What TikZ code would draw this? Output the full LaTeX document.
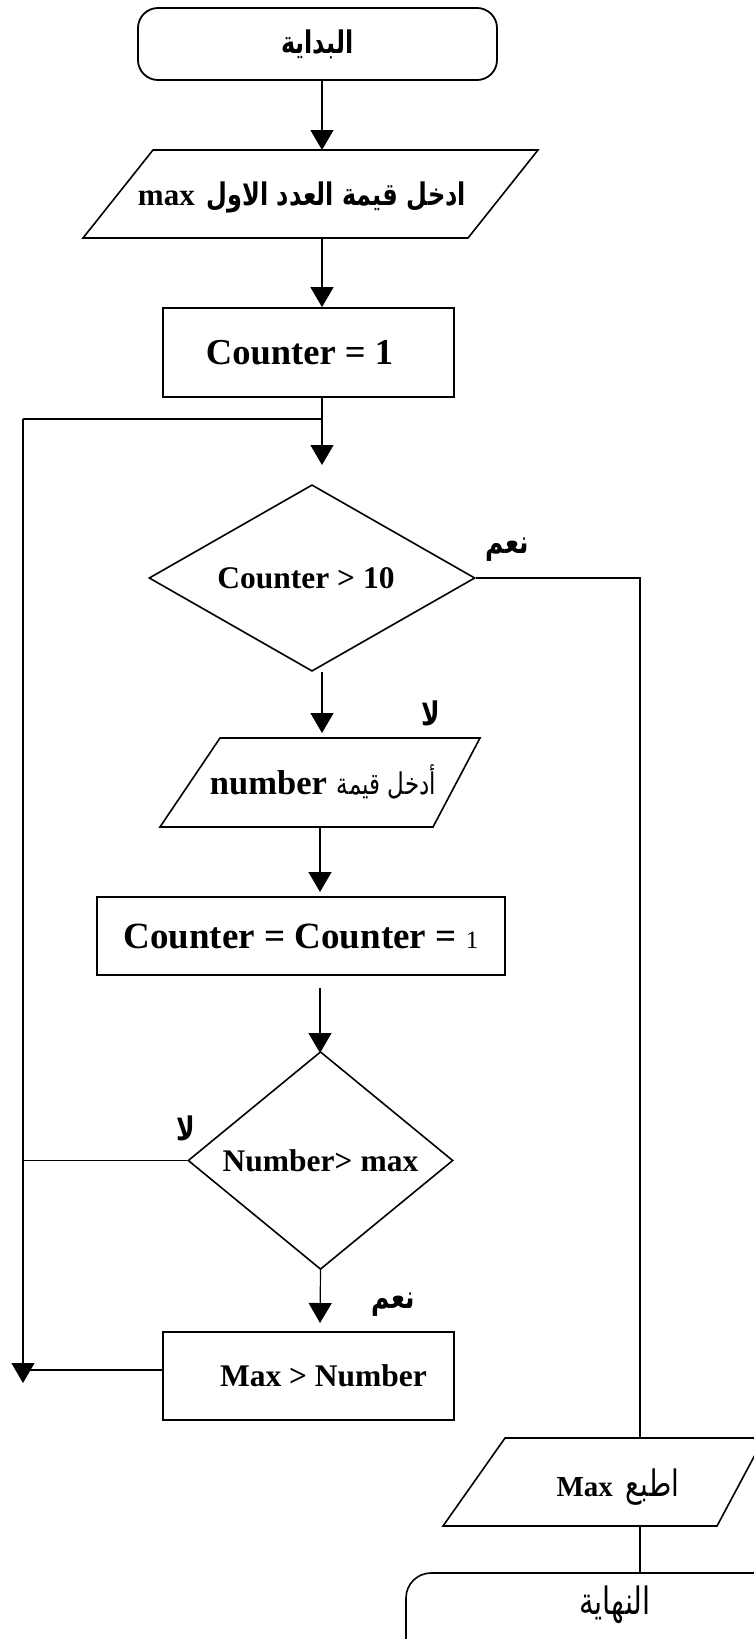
\documentclass[tikz,border=0pt]{standalone}
\usepackage{fontspec}
\usepackage{graphicx}
\setmainfont{Liberation Serif}
\newfontfamily\arabicfont[Script=Arabic]{DejaVu Sans}
\TeXXeTstate=1
\usetikzlibrary{shapes.geometric,arrows.meta}
\newcommand{\artxt}[1]{\scalebox{1}[1.3]{\arabicfont\beginR #1\endR}}
\newcommand{\fsz}[1]{\fontsize{#1}{#1}\selectfont}
\begin{document}
\begin{tikzpicture}[x=1pt,y=-1pt,
  boxline/.style={draw, line width=1.8pt, line join=miter},
  procbox/.style={boxline, rectangle, inner sep=0pt, font=\bfseries},
  termbox/.style={boxline, rectangle, rounded corners=20pt, inner sep=0pt},
  decbox/.style={draw, line width=1.6pt, line join=miter, diamond, inner sep=0pt, font=\bfseries},
  ioline/.style={draw, line width=1.6pt, line join=miter},
  conn/.style={line width=1.2pt},
  arr/.style={conn, -{Triangle[length=20pt,width=23pt]}},
  txt/.style={inner sep=0pt},
  lbl/.style={inner sep=0pt, font=\arabicfont\bfseries\fsz{25}},
]
\useasboundingbox (0,0) rectangle (754,1639);
\clip (0,0) rectangle (754,1639);

% column coordinates
\coordinate (col) at (322,0);
\coordinate (col2) at (320,0);
\coordinate (colR) at (640,0);
\coordinate (lt) at (23,419);
\coordinate (lb) at (23,1383);
\coordinate (j1) at (322,419);

% start
\node[termbox, minimum width=359pt, minimum height=72pt] (start) at (317.5,44)
  {\artxt{\bfseries\fsz{24}البداية}};

% input 1
\draw[ioline] (153,150) -- (538,150) -- (468,238) -- (83,238) -- cycle;
\coordinate (p1n) at (322,150);
\coordinate (p1s) at (322,238);
\node[txt] (p1) at (302,197) {{\bfseries\fsz{31}max}\hspace{12pt}\artxt{\bfseries\fsz{24}ادخل قيمة العدد الاول}};

% counter = 1
\node[procbox, minimum width=291pt, minimum height=89pt] (box1) at (308.5,352.5)
  {\hspace*{-18pt}\fsz{36.5}Counter = 1};

% decision 1
\node[decbox, minimum width=326pt, minimum height=183pt] (d1) at (312,578)
  {\fsz{31.5}\hspace*{-12pt}Counter > 10};
\coordinate (d1tip) at (322,465);
\coordinate (p2tip) at (322,733);

% input 2
\draw[ioline] (220,738) -- (480,738) -- (433,827) -- (160,827) -- cycle;
\coordinate (p2s) at (320,827);
\node[txt] (p2) at (323,782) {{\bfseries\fsz{34.5}number}\hspace{10pt}\artxt{\fsz{23}أدخل قيمة}};
\coordinate (b2tip) at (320,892);

% counter = counter = 1
\node[procbox, minimum width=408pt, minimum height=78pt] (box2) at (301,936)
  {\fsz{37}Counter = Counter = {\mdseries\fsz{25}1}};
\coordinate (d2tip) at (320,1053);

% decision 2
\node[decbox, minimum width=265pt, minimum height=195pt] (d2) at (320.5,1160.5)
  {\fsz{31.5}Number> max};
\coordinate (b3tip) at (320,1323);

% max > number
\node[procbox, minimum width=291pt, minimum height=88pt] (box3) at (308.5,1376)
  {\hspace*{30pt}\fsz{31.5}Max > Number};

% output
\draw[ioline] (505,1438) -- (764,1438) -- (717,1526) -- (443,1526) -- cycle;
\coordinate (p3n) at (640,1438);
\coordinate (p3s) at (640,1526);
\node[txt] (p3) at (618,1487) {{\bfseries\fsz{29}Max}\hspace{13pt}\artxt{\fsz{28}اطبع}};

% end
\node[termbox, line width=1.6pt, rounded corners=25pt, minimum width=374pt, minimum height=92pt] (end) at (593,1619) {};
\node[txt] (endtxt) at (615,1605) {\artxt{\fsz{29}النهاية}};

% labels
\node[lbl] (yes1) at (507,550) {\artxt{نعم}};
\node[lbl] (no1) at (431,713) {\artxt{لا}};
\node[lbl] (no2) at (186,1128) {\artxt{لا}};
\node[lbl] (yes2) at (393,1305) {\artxt{نعم}};

% connectors
\draw[arr] (start.south -| col) -- (p1n);
\draw[arr] (p1s) -- (box1.north -| col);
\draw[arr] (box1.south -| col) -- (d1tip);
\draw[conn] (j1) -- (lt);
\draw[arr] (lt) -- (lb);
\draw[arr] (d1.south -| col) -- (p2tip);
\draw[conn] (d1.east) -- (d1.east -| colR) -- (p3n);
\draw[arr] (p2s) -- (b2tip);
\draw[arr] ([yshift=-12pt]box2.south -| col2) -- (d2tip);
\draw[conn] (d2.west) -- (d2.west -| lt);
\draw[arr] (d2.south) -- (b3tip);
\draw[conn] ([yshift=6pt]box3.west) -- ([yshift=6pt]box3.west -| lt);
\draw[conn] (p3s) -- (end.north -| colR);
\end{tikzpicture}
\end{document}
